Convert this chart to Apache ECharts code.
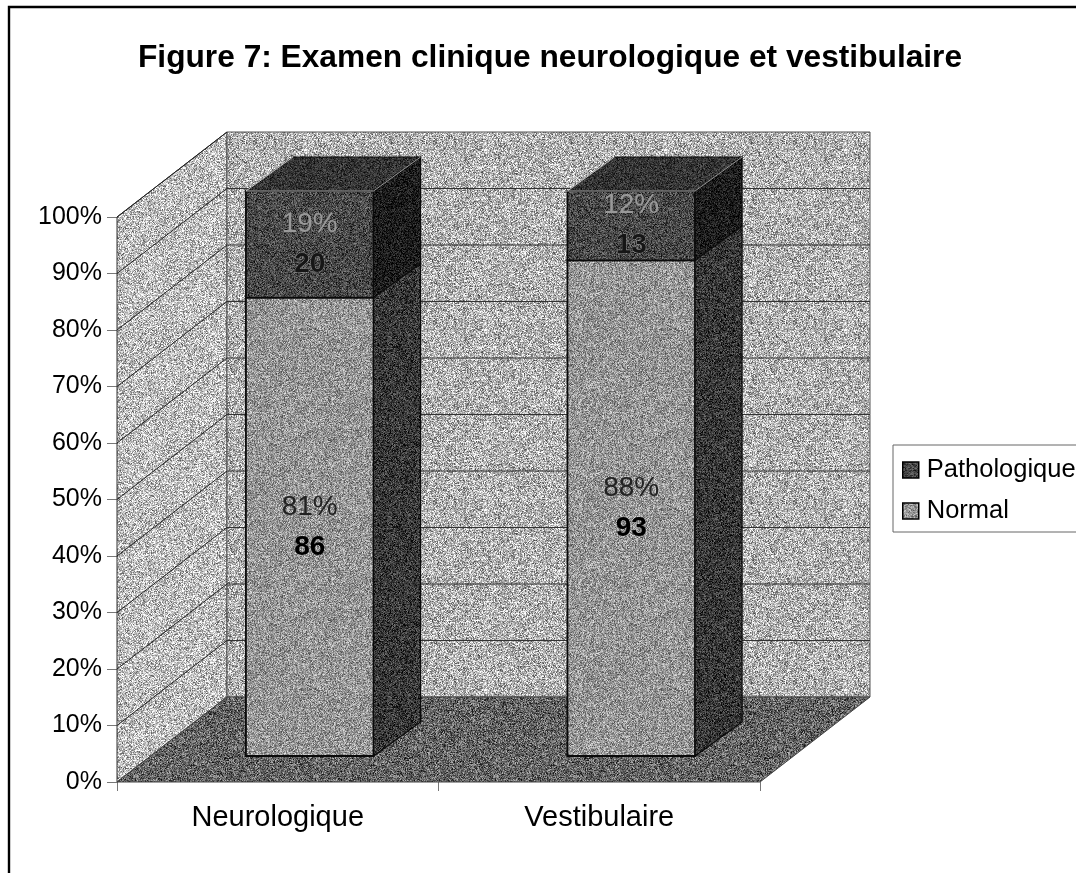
<!DOCTYPE html>
<html><head><meta charset="utf-8">
<style>html,body{margin:0;padding:0;background:#fff}#c{width:1076px;height:873px}</style>
<script src="https://cdn.jsdelivr.net/npm/echarts@6/dist/echarts.min.js"></script>
</head><body><div id="c"></div>
<script>
const categories = ['Neurologique', 'Vestibulaire'];
const normalCounts = [86, 93];
const pathoCounts = [20, 13];
const normalPctLabels = ['81%', '88%'];
const pathoPctLabels = ['19%', '12%'];
const yTicks = [0, 10, 20, 30, 40, 50, 60, 70, 80, 90, 100];

// Presentation constants for the pseudo-3D projection
const WALL = {dx: 110, dy: -85};
const BASE = {dx: 32, dy: -26};
const DEPTH = {dx: 47, dy: -34};
const BAR_FRACTION = 0.397;
const FONT = '"Liberation Sans", Arial, sans-serif';

// Deterministic scanned-halftone texture
function tile(gray, spread) {
  const size = 180, cv = document.createElement('canvas');
  cv.width = cv.height = size;
  const ctx = cv.getContext('2d'), img = ctx.createImageData(size, size);
  let s = gray * 7919 + 13;
  for (let i = 0; i < size * size; i++) {
    s = (s * 1664525 + 1013904223) >>> 0;
    const r = (s >>> 8) / 16777216;
    s = (s * 1664525 + 1013904223) >>> 0;
    const r2 = (s >>> 8) / 16777216;
    const v = Math.max(0, Math.min(255, gray + (r + r2 - 1) * spread));
    img.data[i*4] = img.data[i*4+1] = img.data[i*4+2] = v;
    img.data[i*4+3] = 255;
  }
  ctx.putImageData(img, 0, 0);
  return {image: cv, repeat: 'repeat'};
}
const tex = {
  back: tile(178, 115), side: tile(190, 115), floor: tile(100, 95),
  normalFront: tile(150, 85), normalSide: tile(55, 70),
  pathoFront: tile(72, 70), pathoTop: tile(52, 50), pathoSide: tile(28, 50)
};

function quad(points, fill, stroke, w) {
  return {type: 'polygon', shape: {points},
    style: {fill, stroke: stroke || 'none', lineWidth: w === undefined ? 1 : w}};
}
function line(a, b, color, w) {
  return {type: 'line', shape: {x1: a[0], y1: a[1], x2: b[0], y2: b[1]},
    style: {stroke: color || '#111', lineWidth: w || 1, fill: null}};
}
function wallsItem(params, api) {
  const size = api.size([1, 0])[0];
  const y0 = api.coord([0, 0]), y100 = api.coord([0, 100]);
  const xL = y0[0] - size / 2, xR = xL + size * categories.length;
  const fy = y0[1], ty = y100[1], d = WALL;
  const kids = [
    quad([[xL, fy], [xL, ty], [xL + d.dx, ty + d.dy], [xL + d.dx, fy + d.dy]], tex.side, '#333', 1),
    quad([[xL + d.dx, ty + d.dy], [xR + d.dx, ty + d.dy], [xR + d.dx, fy + d.dy], [xL + d.dx, fy + d.dy]], tex.back, '#555', 1),
    quad([[xL, fy], [xR, fy], [xR + d.dx, fy + d.dy], [xL + d.dx, fy + d.dy]], tex.floor, '#444', 1)
  ];
  yTicks.forEach(t => {
    if (t === 0) return;
    const y = api.coord([0, t])[1];
    kids.push(line([xL, y], [xL + d.dx, y + d.dy], '#222', 1));
    if (t < 100) kids.push(line([xL + d.dx, y + d.dy], [xR + d.dx, y + d.dy], '#333', 1));
  });
  return {type: 'group', children: kids};
}
function barItem(faces, labelStyles) {
  return function (params, api) {
    const cat = api.value(0), lo = api.value(1), hi = api.value(2);
    const c0 = api.coord([cat, lo]), c1 = api.coord([cat, hi]);
    const w = api.size([1, 0])[0] * BAR_FRACTION;
    const xl = c0[0] - w / 2 + BASE.dx, xr = xl + w;
    const yb = c0[1] + BASE.dy, yt = c1[1] + BASE.dy;
    const dx = DEPTH.dx, dy = DEPTH.dy;
    const kids = [
      quad([[xl, yb], [xr, yb], [xr, yt], [xl, yt]], faces.front, '#0a0a0a', 1.8),
      quad([[xr, yb], [xr + dx, yb + dy], [xr + dx, yt + dy], [xr, yt]], faces.side, '#0a0a0a', 1.2)
    ];
    if (faces.top) {
      kids.push(quad([[xl, yt], [xr, yt], [xr + dx, yt + dy], [xl + dx, yt + dy]], faces.top, '#0a0a0a', 1));
      kids.push(line([xl, yt], [xr, yt], '#aaa', 1));
      kids.push(line([xr, yt], [xr + dx, yt + dy], '#999', 1));
      kids.push(line([xl, yt], [xl + dx, yt + dy], '#ccc', 1));
    } else {
      kids.push(line([xr, yt], [xr + dx, yt + dy], '#999', 1));
    }
    const cx = (xl + xr) / 2, cy = (yb + yt) / 2;
    kids.push({type: 'text', style: {x: cx, y: cy - 20, text: api.value(4) + '%', align: 'center', verticalAlign: 'middle',
      font: '28px ' + FONT, fill: labelStyles.pct}});
    kids.push({type: 'text', style: {x: cx, y: cy + 20, text: String(api.value(3)), align: 'center', verticalAlign: 'middle',
      font: 'bold 28px ' + FONT, fill: labelStyles.count, stroke: labelStyles.outline || null, lineWidth: labelStyles.outline ? 0.6 : 0}});
    return {type: 'group', children: kids};
  };
}

// [category index, stack start %, stack end %, count, rounded % label]
const totals = categories.map((_, i) => normalCounts[i] + pathoCounts[i]);
const normalData = categories.map((_, i) => [i, 0, normalCounts[i] / totals[i] * 100, normalCounts[i],
  parseInt(normalPctLabels[i])]);
const pathoData = categories.map((_, i) => [i, normalCounts[i] / totals[i] * 100, 100, pathoCounts[i],
  parseInt(pathoPctLabels[i])]);

const chart = echarts.init(document.getElementById('c'), null, {renderer: 'canvas'});
chart.setOption({
  animation: false,
  backgroundColor: '#fff',
  title: {text: 'Figure 7: Examen clinique neurologique et vestibulaire', left: 133, top: 37,
    textStyle: {fontFamily: FONT, fontWeight: 'bold', fontSize: 31.7, color: '#000'}},
  grid: {left: 117, right: 316, top: 217, bottom: 91, containLabel: false},
  legend: {
    orient: 'vertical', left: 893, top: 445, padding: [12, 12, 8, 9], itemGap: 15,
    itemWidth: 16, itemHeight: 16, icon: 'rect', selectedMode: false,
    backgroundColor: '#fff', borderColor: '#666', borderWidth: 1,
    textStyle: {fontFamily: FONT, fontSize: 25.5, color: '#000', padding: [0, 0, 0, 3]},
    data: [
      {name: 'Pathologique', itemStyle: {color: tex.pathoFront, borderColor: '#000', borderWidth: 1.5}},
      {name: 'Normal', itemStyle: {color: tex.normalFront, borderColor: '#000', borderWidth: 1.5}}
    ]
  },
  xAxis: {type: 'category', data: categories,
    axisLine: {show: false},
    axisTick: {show: true, length: 9, lineStyle: {color: '#777'}},
    axisLabel: {fontFamily: FONT, fontSize: 29, color: '#000', margin: 21},
    splitLine: {show: false}},
  yAxis: {type: 'value', min: 0, max: 100, interval: 10,
    axisLine: {show: true, lineStyle: {color: '#333'}},
    axisTick: {show: true, length: 10, lineStyle: {color: '#777'}},
    axisLabel: {fontFamily: FONT, fontSize: 25, color: '#000', margin: 15,
      formatter: v => v + '%'},
    splitLine: {show: false}},
  graphic: [{type: 'polyline', silent: true, z: 100,
    shape: {points: [[9, 880], [9, 7], [1080, 7]]},
    style: {stroke: '#000', lineWidth: 2.4, fill: null}}],
  series: [
    {type: 'custom', name: 'walls', z: 1, silent: true, data: [[0, 0]], encode: {x: 0, y: 1},
      renderItem: wallsItem, clip: false},
    {type: 'custom', name: 'Normal', z: 2, silent: true, data: normalData, encode: {x: 0, y: [1, 2]},
      itemStyle: {color: '#999'}, clip: false,
      renderItem: barItem({front: tex.normalFront, side: tex.normalSide}, {pct: '#222', count: '#000'})},
    {type: 'custom', name: 'Pathologique', z: 3, silent: true, data: pathoData, encode: {x: 0, y: [1, 2]},
      itemStyle: {color: '#444'}, clip: false,
      renderItem: barItem({front: tex.pathoFront, side: tex.pathoSide, top: tex.pathoTop},
        {pct: '#999', count: '#161616', outline: '#aaa'})}
  ]
});
</script></body></html>
